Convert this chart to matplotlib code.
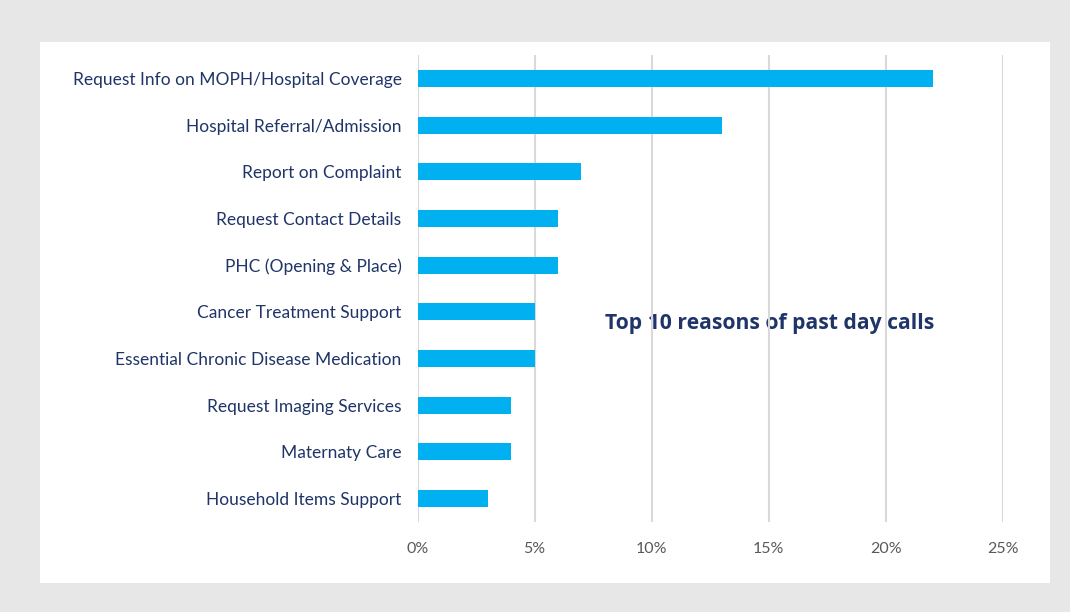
import matplotlib
matplotlib.use("Agg")
import matplotlib.pyplot as plt
from matplotlib.patches import Rectangle
from matplotlib.ticker import FuncFormatter

# Call reasons, top to bottom, with share of past day calls (%)
reasons = [
    "Request Info on MOPH/Hospital Coverage",
    "Hospital Referral/Admission",
    "Report on Complaint",
    "Request Contact Details",
    "PHC (Opening & Place)",
    "Cancer Treatment Support",
    "Essential Chronic Disease Medication",
    "Request Imaging Services",
    "Maternaty Care",
    "Household Items Support",
]
shares = [22, 13, 7, 6, 6, 5, 5, 4, 4, 3]
x_ticks = [0, 5, 10, 15, 20, 25]

navy = "#1f3468"
bar_color = "#00b0f0"

W, H = 1070, 612
fig = plt.figure(figsize=(W / 100, H / 100), dpi=100)
fig.patch.set_facecolor("#e7e7e7")

# white card behind the chart
fig.add_artist(Rectangle((40 / W, 1 - 583 / H), (1050 - 40) / W, (583 - 42) / H,
                         transform=fig.transFigure, facecolor="white",
                         edgecolor="none", zorder=0))

ax = fig.add_axes([417.5 / W, 1 - 522 / H, (1003 - 417.5) / W, (522 - 55) / H])
ax.set_facecolor("none")

pos = list(range(len(reasons)))
ax.barh(pos, shares, height=0.365, color=bar_color, zorder=3)
ax.set_ylim(len(reasons) - 0.5, -0.5)
ax.set_xlim(0, 25)

ax.set_yticks(pos)
ax.set_yticklabels(reasons, fontsize=12.5, color=navy, family="Lato")
ax.set_xticks(x_ticks)
ax.xaxis.set_major_formatter(FuncFormatter(lambda v, _: f"{v:.0f}%"))
for lbl in ax.get_xticklabels():
    lbl.set_family("Lato")
    lbl.set_fontsize(11.5)
    lbl.set_color("#595959")

ax.tick_params(axis="y", length=0, pad=11.5)
ax.tick_params(axis="x", length=0, pad=14.5)
ax.grid(axis="x", color="#d9d9d9", linewidth=1.5, zorder=2)
ax.set_axisbelow(False)
for s in ax.spines.values():
    s.set_visible(False)

# chart caption sits in the empty area right of the short bars
ax.text(0.32, 0.425, "Top 10 reasons of past day calls", transform=ax.transAxes,
        fontsize=15.2, fontweight="bold", color=navy, family="Open Sans",
        ha="left", va="center", zorder=1)

fig.savefig("out.png", dpi=100, facecolor=fig.get_facecolor())
